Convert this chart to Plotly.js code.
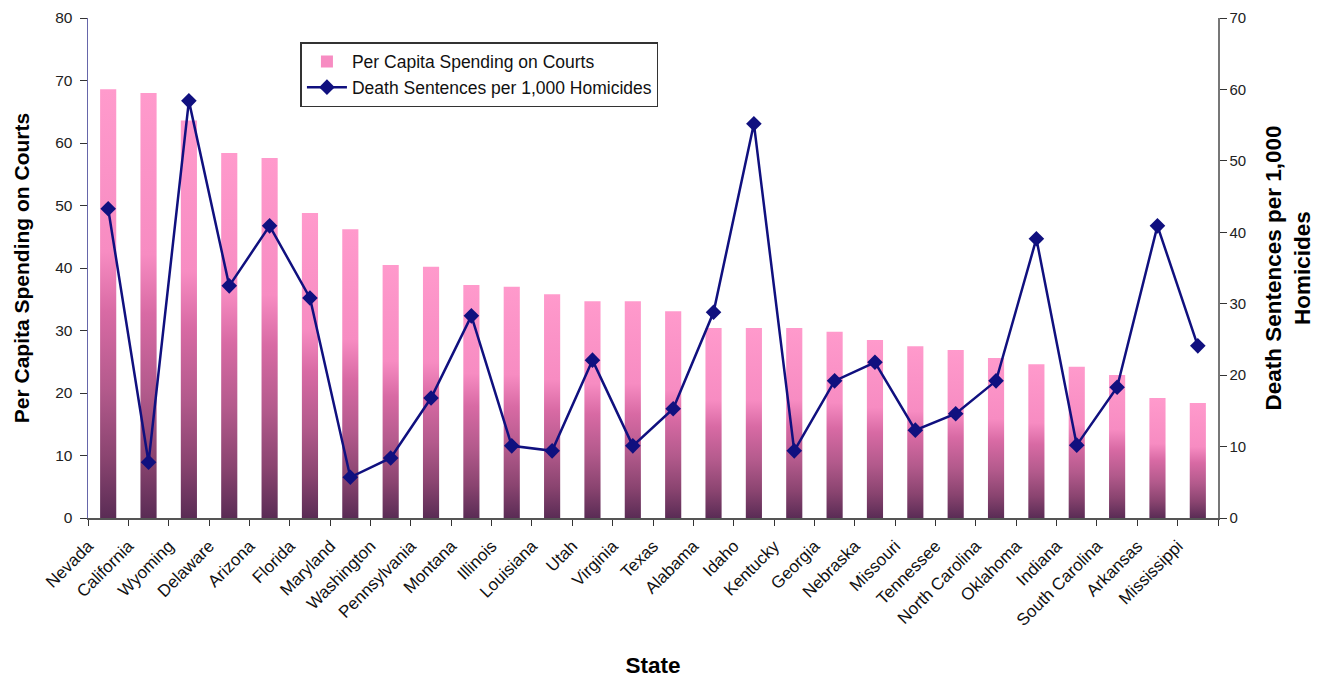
<!DOCTYPE html>
<html>
<head>
<meta charset="utf-8">
<script src="https://cdn.plot.ly/plotly-3.0.1.min.js"></script>
<style>html,body{margin:0;padding:0;background:#fff;}#chart{width:1331px;height:679px;}</style>
</head>
<body>
<div id="chart"></div>
<script>
const states = ["Nevada","California","Wyoming","Delaware","Arizona","Florida","Maryland","Washington","Pennsylvania","Montana","Illinois","Louisiana","Utah","Virginia","Texas","Alabama","Idaho","Kentucky","Georgia","Nebraska","Missouri","Tennessee","North Carolina","Oklahoma","Indiana","South Carolina","Arkansas","Mississippi"];
const spending = [68.6,68.0,63.6,58.4,57.6,48.8,46.2,40.5,40.2,37.3,37.0,35.8,34.7,34.7,33.1,30.4,30.4,30.4,29.8,28.5,27.5,26.9,25.6,24.6,24.2,22.9,19.2,18.4];
const deathSentences = [43.3,7.8,58.4,32.5,40.9,30.8,5.7,8.4,16.8,28.3,10.1,9.4,22.1,10.1,15.3,28.8,55.2,9.4,19.2,21.8,12.3,14.6,19.2,39.1,10.2,18.3,40.9,24.1];

const font = "Liberation Sans, Arial, sans-serif";
const traces = [
  {type:'bar', x:states, y:spending, name:'Per Capita Spending on Courts', yaxis:'y',
   marker:{color:'#f78cc2', line:{width:0}}},
  {type:'scatter', mode:'lines+markers', x:states, y:deathSentences, yaxis:'y2',
   name:'Death Sentences per 1,000 Homicides',
   line:{color:'#10107f', width:2.5}, marker:{symbol:'diamond', size:12, color:'#10107f'}}
];
const layout = {
  width:1331, height:679,
  margin:{l:88, r:113, t:18, b:161},
  paper_bgcolor:'#fff', plot_bgcolor:'#fff',
  font:{family:font, size:15, color:'#000'},
  bargap:0.6,
  showlegend:true,
  legend:{x:0.188, y:0.952, xanchor:'left', yanchor:'top', bgcolor:'#fff',
    bordercolor:'#333', borderwidth:1.5, font:{family:font, size:17.5, color:'#111'},
    tracegroupgap:0, itemwidth:40},
  xaxis:{type:'category', tickangle:-45, tickson:'boundaries', ticks:'outside', ticklen:6,
    tickcolor:'#333', showline:true, linecolor:'#555', linewidth:1.5, showgrid:false,
    tickfont:{family:font, size:17, color:'#111'}, range:[-0.5, 27.5],
    ticklabelstandoff:10, ticklabelshift:-20,
    title:{text:'<b>State</b>', font:{family:font, size:22.5}, standoff:28}},
  yaxis:{range:[0,80], dtick:10, ticks:'outside', ticklen:7, tickcolor:'#333',
    showline:true, linecolor:'#6666aa', linewidth:1.5, showgrid:false, zeroline:false,
    tickfont:{family:font, size:15.5, color:'#222'}, ticklabelstandoff:4,
    title:{text:'<b>Per Capita Spending on Courts</b>', font:{family:font, size:21}, standoff:20}},
  yaxis2:{overlaying:'y', side:'right', range:[0,70], dtick:10, ticks:'outside', ticklen:7,
    tickcolor:'#333', showline:true, linecolor:'#777', linewidth:1.5, showgrid:false, zeroline:false,
    tickfont:{family:font, size:15, color:'#222'},
    title:{text:'<b>Death Sentences per 1,000<br>Homicides</b>', font:{family:font, size:22.5}, standoff:20}}
};
Plotly.newPlot('chart', traces, layout, {displayModeBar:false, staticPlot:true}).then(function(gd){
  const svg = gd.querySelector('.main-svg');
  let defs = svg.querySelector('defs');
  const NS = 'http://www.w3.org/2000/svg';
  const grad = document.createElementNS(NS, 'linearGradient');
  grad.setAttribute('id', 'barGrad');
  grad.setAttribute('x1','0'); grad.setAttribute('y1','0');
  grad.setAttribute('x2','0'); grad.setAttribute('y2','1');
  [[0,'#ff9acc'],[0.38,'#f78cc2'],[0.52,'#d86aa4'],[0.7,'#b35a8c'],[0.86,'#8a4470'],[1,'#5a2c55']].forEach(function(s){
    const st = document.createElementNS(NS,'stop');
    st.setAttribute('offset', s[0]); st.setAttribute('stop-color', s[1]);
    grad.appendChild(st);
  });
  defs.appendChild(grad);
  gd.querySelectorAll('.barlayer .point path').forEach(function(p){ p.style.fill = 'url(#barGrad)'; });
  gd.querySelectorAll('.legend .legendpoints path').forEach(function(p){
    if (p.closest('.legendbar') || p.parentNode.classList.contains('legendbar')) p.style.fill = 'url(#barGrad)';
  });
});
</script>
</body>
</html>
